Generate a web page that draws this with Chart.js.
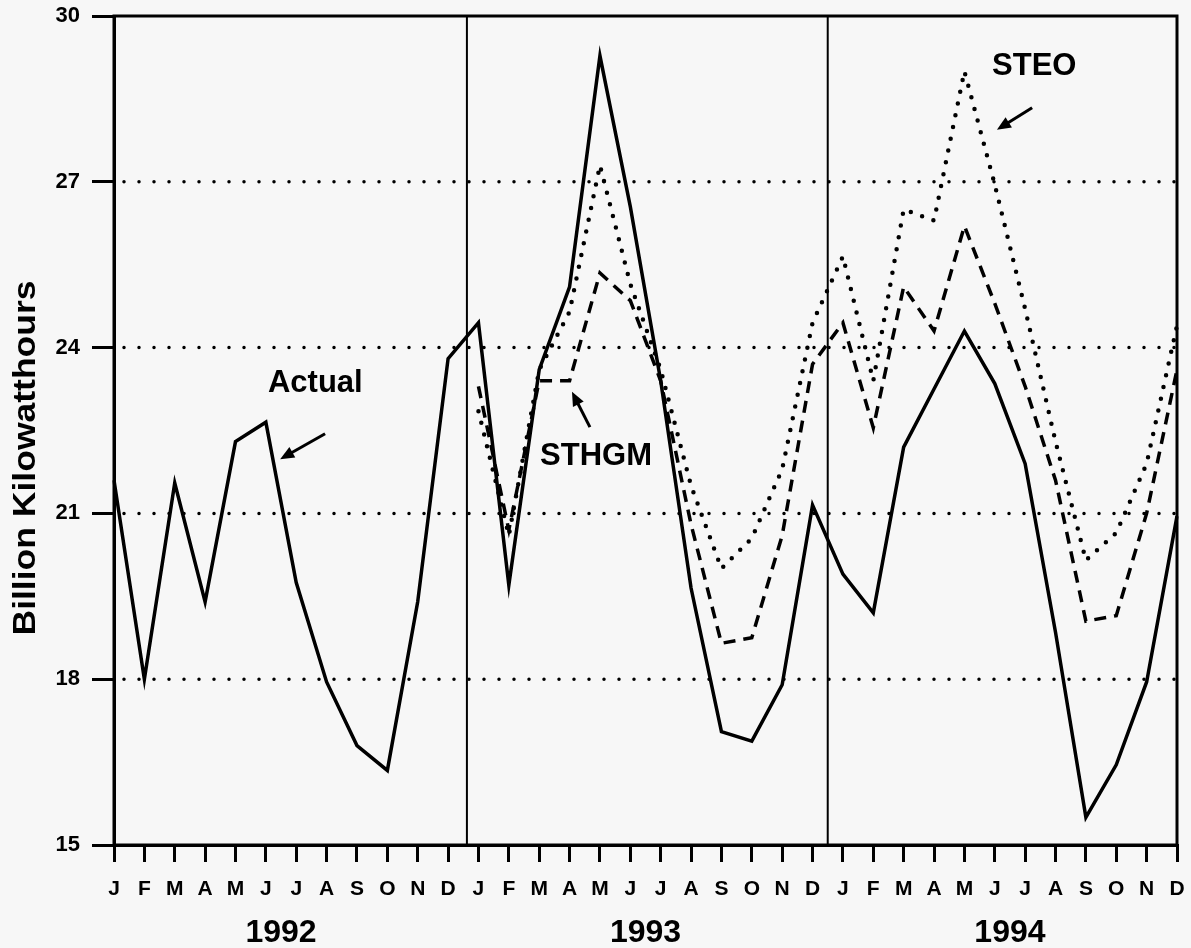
<!DOCTYPE html>
<html>
<head>
<meta charset="utf-8">
<script src="https://cdn.jsdelivr.net/npm/chart.js@4.4.0/dist/chart.umd.min.js"></script>
<style>
  html, body { margin: 0; padding: 0; background: #f7f7f7; }
  #wrap { width: 1191px; height: 948px; }
</style>
</head>
<body>
<div id="wrap"><canvas id="chart"></canvas></div>
<script>
// month letters, three years
const monthLetters = ['J','F','M','A','M','J','J','A','S','O','N','D'];
const months = [...monthLetters, ...monthLetters, ...monthLetters];
const years = ['1992', '1993', '1994'];

// Billion kilowatthours
const actual = [
  21.6, 18.0, 21.55, 19.4, 22.3, 22.65, 19.75, 17.95, 16.8, 16.35, 19.4, 23.8,
  24.45, 19.7, 23.6, 25.1, 29.28, 26.55, 23.4, 19.65, 17.05, 16.88, 17.9, 21.15,
  19.9, 19.2, 22.2, 23.25, 24.3, 23.35, 21.9, 18.85, 15.5, 16.45, 17.95, 20.95
];
const sthgm = [
  null, null, null, null, null, null, null, null, null, null, null, null,
  23.3, 20.7, 23.4, 23.4, 25.35, 24.85, 23.4, 20.8, 18.65, 18.75, 20.6, 23.7,
  24.45, 22.55, 25.1, 24.3, 26.2, 24.8, 23.3, 21.6, 19.05, 19.15, 21.0, 23.6
];
const steo = [
  null, null, null, null, null, null, null, null, null, null, null, null,
  22.85, 20.6, 23.6, 24.65, 27.3, 25.15, 23.6, 21.5, 20.0, 20.55, 21.8, 24.45,
  25.65, 23.4, 26.5, 26.3, 29.0, 26.95, 24.7, 22.3, 20.15, 20.65, 21.9, 24.4
];

const yTicks = [15, 18, 21, 24, 27, 30];
const gridValues = [18, 21, 24, 27];
const yearBreaks = [11.62, 23.5];

const FONT = '"Liberation Sans", Arial, Helvetica, sans-serif';

// labels with arrows: text anchor and arrow in data units (x = month index)
const notes = [
  { text: 'Actual', x: 5.07, y: 23.2, from: [6.95, 22.44], to: [5.47, 21.98] },
  { text: 'STHGM', x: 14.03, y: 21.88, from: [15.67, 22.56], to: [15.08, 23.2] },
  { text: 'STEO', x: 28.91, y: 28.93, from: [30.23, 28.34], to: [29.07, 27.94] }
];

// dotted grid, frame, year separators, notes, axis title
const decorPlugin = {
  id: 'decor',
  beforeDatasetsDraw(chart) {
    const { ctx, chartArea: a, scales: { x, y } } = chart;
    ctx.save();
    // dotted horizontal grid
    ctx.strokeStyle = '#000';
    ctx.lineWidth = 3.5;
    ctx.lineCap = 'round';
    ctx.setLineDash([0, 15]);
    gridValues.forEach(v => {
      const py = y.getPixelForValue(v);
      ctx.beginPath();
      ctx.moveTo(a.left + 10, py);
      ctx.lineTo(a.right, py);
      ctx.stroke();
    });
    ctx.setLineDash([]);
    ctx.lineCap = 'butt';
    // year separators
    ctx.lineWidth = 2;
    yearBreaks.forEach(v => {
      const px = x.getPixelForValue(v);
      ctx.beginPath();
      ctx.moveTo(px, a.top);
      ctx.lineTo(px, a.bottom);
      ctx.stroke();
    });
    // frame
    ctx.lineWidth = 3;
    ctx.strokeRect(a.left, a.top, a.right - a.left, a.bottom - a.top);
    ctx.restore();
  },
  afterDraw(chart) {
    const { ctx, chartArea: a, scales: { x, y } } = chart;
    ctx.save();
    ctx.fillStyle = '#000';
    ctx.strokeStyle = '#000';

    // notes + arrows
    ctx.font = 'bold 31px ' + FONT;
    ctx.textAlign = 'left';
    ctx.textBaseline = 'alphabetic';
    notes.forEach(n => {
      ctx.fillText(n.text, x.getPixelForValue(n.x), y.getPixelForValue(n.y));
      const x0 = x.getPixelForValue(n.from[0]), y0 = y.getPixelForValue(n.from[1]);
      const x1 = x.getPixelForValue(n.to[0]), y1 = y.getPixelForValue(n.to[1]);
      const ang = Math.atan2(y1 - y0, x1 - x0);
      ctx.lineWidth = 3;
      ctx.beginPath();
      ctx.moveTo(x0, y0);
      ctx.lineTo(x1 - 8 * Math.cos(ang), y1 - 8 * Math.sin(ang));
      ctx.stroke();
      ctx.beginPath();
      ctx.moveTo(x1, y1);
      ctx.lineTo(x1 - 14 * Math.cos(ang) + 6 * Math.sin(ang), y1 - 14 * Math.sin(ang) - 6 * Math.cos(ang));
      ctx.lineTo(x1 - 14 * Math.cos(ang) - 6 * Math.sin(ang), y1 - 14 * Math.sin(ang) + 6 * Math.cos(ang));
      ctx.closePath();
      ctx.fill();
    });

    // year labels under the month letters
    ctx.font = 'bold 32px ' + FONT;
    ctx.textAlign = 'center';
    ctx.textBaseline = 'middle';
    years.forEach((yr, i) => {
      ctx.fillText(yr, x.getPixelForValue(i * 12 + 5.5), 933);
    });

    // y axis title, stretched along its length like the original
    ctx.font = 'bold 31px ' + FONT;
    const title = 'Billion Kilowatthours';
    const stretch = 355 / ctx.measureText(title).width;
    ctx.translate(35, 458);
    ctx.rotate(-Math.PI / 2);
    ctx.scale(stretch, 1);
    ctx.textAlign = 'center';
    ctx.textBaseline = 'alphabetic';
    ctx.fillText(title, 0, 0);
    ctx.restore();
  }
};

new Chart(document.getElementById('chart'), {
  type: 'line',
  data: {
    labels: months,
    datasets: [
      {
        label: 'Actual',
        data: actual,
        borderColor: '#000',
        borderWidth: 3.5,
        pointRadius: 0,
        tension: 0
      },
      {
        label: 'STHGM',
        data: sthgm,
        borderColor: '#000',
        borderWidth: 3.5,
        borderDash: [12, 8],
        pointRadius: 0,
        tension: 0
      },
      {
        label: 'STEO',
        data: steo,
        borderColor: '#000',
        borderWidth: 4.5,
        borderDash: [0, 12],
        borderCapStyle: 'round',
        pointRadius: 0,
        tension: 0
      }
    ]
  },
  options: {
    responsive: true,
    maintainAspectRatio: false,
    animation: false,
    layout: { padding: { top: 16, right: 14, left: 0, bottom: 0 } },
    plugins: {
      legend: { display: false },
      tooltip: { enabled: false }
    },
    scales: {
      x: {
        type: 'category',
        offset: false,
        afterFit: (scale) => {
          scale.height = 103;
          scale.paddingLeft = 0;
          scale.paddingRight = 0;
        },
        grid: {
          display: true,
          drawOnChartArea: false,
          drawTicks: true,
          tickLength: 17,
          lineWidth: 3,
          color: '#000'
        },
        border: { display: true, width: 3, color: '#000' },
        ticks: {
          autoSkip: false,
          maxRotation: 0,
          padding: 15,
          color: '#000',
          font: { family: FONT, weight: 'bold', size: 21 }
        }
      },
      y: {
        min: 15,
        max: 30,
        afterFit: (scale) => {
          scale.width = 114;
          scale.paddingTop = 0;
          scale.paddingBottom = 0;
        },
        afterBuildTicks: (scale) => { scale.ticks = yTicks.map(v => ({ value: v })); },
        grid: {
          display: true,
          drawOnChartArea: false,
          drawTicks: true,
          tickLength: 22,
          lineWidth: 3,
          color: '#000'
        },
        border: { display: true, width: 3, color: '#000' },
        ticks: {
          padding: 12,
          color: '#000',
          font: { family: FONT, weight: 'bold', size: 22 }
        }
      }
    }
  },
  plugins: [decorPlugin]
});
</script>
</body>
</html>
